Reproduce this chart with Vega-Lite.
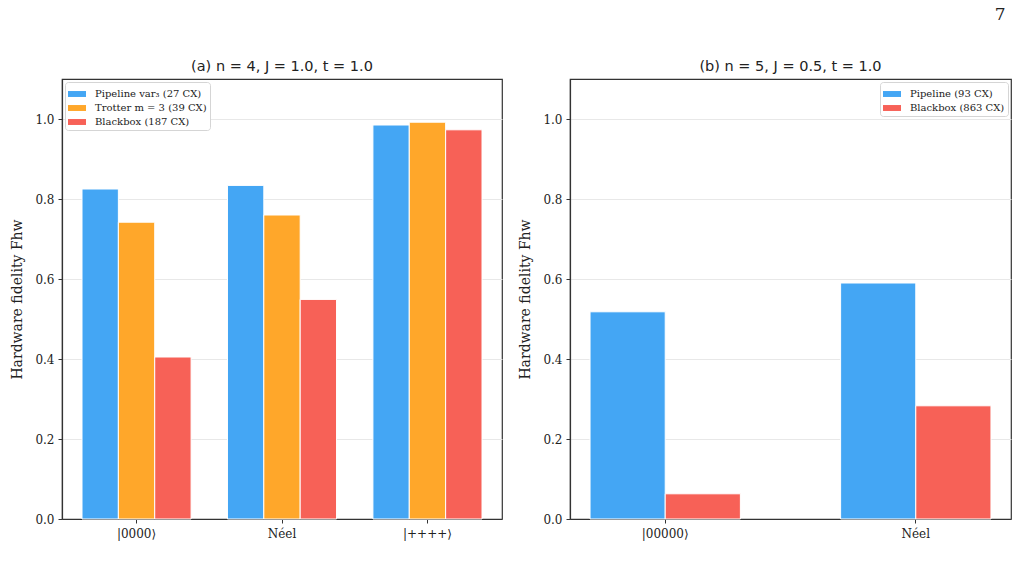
{
  "$schema": "https://vega.github.io/schema/vega-lite/v6.json",
  "background": "white",
  "padding": {"left": 10, "top": 5, "right": 5, "bottom": 5},
  "title": {
    "text": "7",
    "anchor": "end",
    "font": "DejaVu Serif",
    "fontSize": 17,
    "fontWeight": "normal",
    "color": "#222",
    "offset": 34,
    "dx": -6
  },
  "datasets": {
    "panelA": [
      {"state": "|0000⟩", "method": "Pipeline var₃ (27 CX)", "value": 0.825},
      {"state": "|0000⟩", "method": "Trotter m = 3 (39 CX)", "value": 0.742},
      {"state": "|0000⟩", "method": "Blackbox (187 CX)", "value": 0.405},
      {"state": "Néel", "method": "Pipeline var₃ (27 CX)", "value": 0.834},
      {"state": "Néel", "method": "Trotter m = 3 (39 CX)", "value": 0.76},
      {"state": "Néel", "method": "Blackbox (187 CX)", "value": 0.549},
      {"state": "|++++⟩", "method": "Pipeline var₃ (27 CX)", "value": 0.985},
      {"state": "|++++⟩", "method": "Trotter m = 3 (39 CX)", "value": 0.992},
      {"state": "|++++⟩", "method": "Blackbox (187 CX)", "value": 0.973}
    ],
    "panelB": [
      {"state": "|00000⟩", "method": "Pipeline (93 CX)", "value": 0.518},
      {"state": "|00000⟩", "method": "Blackbox (863 CX)", "value": 0.063},
      {"state": "Néel", "method": "Pipeline (93 CX)", "value": 0.59},
      {"state": "Néel", "method": "Blackbox (863 CX)", "value": 0.283}
    ]
  },
  "config": {
    "view": {"stroke": "#333", "strokeWidth": 1.2},
    "axis": {
      "labelFont": "DejaVu Serif",
      "labelFontSize": 12,
      "labelColor": "#222",
      "titleFont": "DejaVu Serif",
      "titleFontSize": 14,
      "titleFontWeight": "normal",
      "titleColor": "#222",
      "tickColor": "#333",
      "tickSize": 4,
      "domainColor": "#333",
      "domainWidth": 1.2,
      "gridColor": "#e8e8e8",
      "gridWidth": 1
    },
    "legend": {
      "labelFont": "DejaVu Serif",
      "labelFontSize": 10,
      "labelColor": "#222",
      "symbolType": "M-1,-0.33H1V0.33H-1Z",
      "symbolSize": 324,
      "symbolStrokeWidth": 0,
      "symbolOpacity": 1,
      "strokeColor": "#d5d5d5",
      "fillColor": "white",
      "padding": 3,
      "cornerRadius": 3,
      "rowPadding": -2,
      "labelOffset": 9,
      "offset": 3
    },
    "title": {"font": "DejaVu Sans", "fontSize": 14.5, "fontWeight": "normal", "color": "#222"}
  },
  "hconcat": [
    {
      "width": 440,
      "height": 440,
      "title": {"text": "(a) n = 4, J = 1.0, t = 1.0", "offset": 5},
      "data": {"name": "panelA"},
      "mark": {"type": "bar", "stroke": "white", "strokeWidth": 1, "width": {"band": 1}},
      "encoding": {
        "x": {
          "field": "state",
          "type": "nominal",
          "sort": ["|0000⟩", "Néel", "|++++⟩"],
          "scale": {"paddingInner": 0.25, "paddingOuter": 0.1375},
          "axis": {"title": null, "labelAngle": 0, "labelPadding": 5}
        },
        "xOffset": {
          "field": "method",
          "type": "nominal",
          "sort": ["Pipeline var₃ (27 CX)", "Trotter m = 3 (39 CX)", "Blackbox (187 CX)"],
          "scale": {"paddingInner": 0, "paddingOuter": 0}
        },
        "y": {
          "field": "value",
          "type": "quantitative",
          "scale": {"domain": [0, 1.1], "nice": false},
          "axis": {
            "values": [0, 0.2, 0.4, 0.6, 0.8, 1.0],
            "format": ".1f",
            "title": "Hardware fidelity Fhw",
            "titlePadding": 10,
            "labelPadding": 4
          }
        },
        "color": {
          "field": "method",
          "type": "nominal",
          "scale": {
            "domain": ["Pipeline var₃ (27 CX)", "Trotter m = 3 (39 CX)", "Blackbox (187 CX)"],
            "range": ["#44A6F4", "#FFA72A", "#F76157"]
          },
          "legend": {"title": null, "orient": "top-left"}
        }
      }
    },
    {
      "width": 441,
      "height": 440,
      "title": {"text": "(b) n = 5, J = 0.5, t = 1.0", "offset": 5},
      "data": {"name": "panelB"},
      "mark": {"type": "bar", "stroke": "white", "strokeWidth": 1, "width": {"band": 1}},
      "encoding": {
        "x": {
          "field": "state",
          "type": "nominal",
          "sort": ["|00000⟩", "Néel"],
          "scale": {"paddingInner": 0.4, "paddingOuter": 0.08},
          "axis": {"title": null, "labelAngle": 0, "labelPadding": 5}
        },
        "xOffset": {
          "field": "method",
          "type": "nominal",
          "sort": ["Pipeline (93 CX)", "Blackbox (863 CX)"],
          "scale": {"paddingInner": 0, "paddingOuter": 0}
        },
        "y": {
          "field": "value",
          "type": "quantitative",
          "scale": {"domain": [0, 1.1], "nice": false},
          "axis": {
            "values": [0, 0.2, 0.4, 0.6, 0.8, 1.0],
            "format": ".1f",
            "title": "Hardware fidelity Fhw",
            "titlePadding": 10,
            "labelPadding": 4
          }
        },
        "color": {
          "field": "method",
          "type": "nominal",
          "scale": {
            "domain": ["Pipeline (93 CX)", "Blackbox (863 CX)"],
            "range": ["#44A6F4", "#F76157"]
          },
          "legend": {"title": null, "orient": "top-right"}
        }
      }
    }
  ],
  "resolve": {
    "scale": {"color": "independent", "xOffset": "independent"},
    "legend": {"color": "independent"}
  },
  "spacing": 15
}
